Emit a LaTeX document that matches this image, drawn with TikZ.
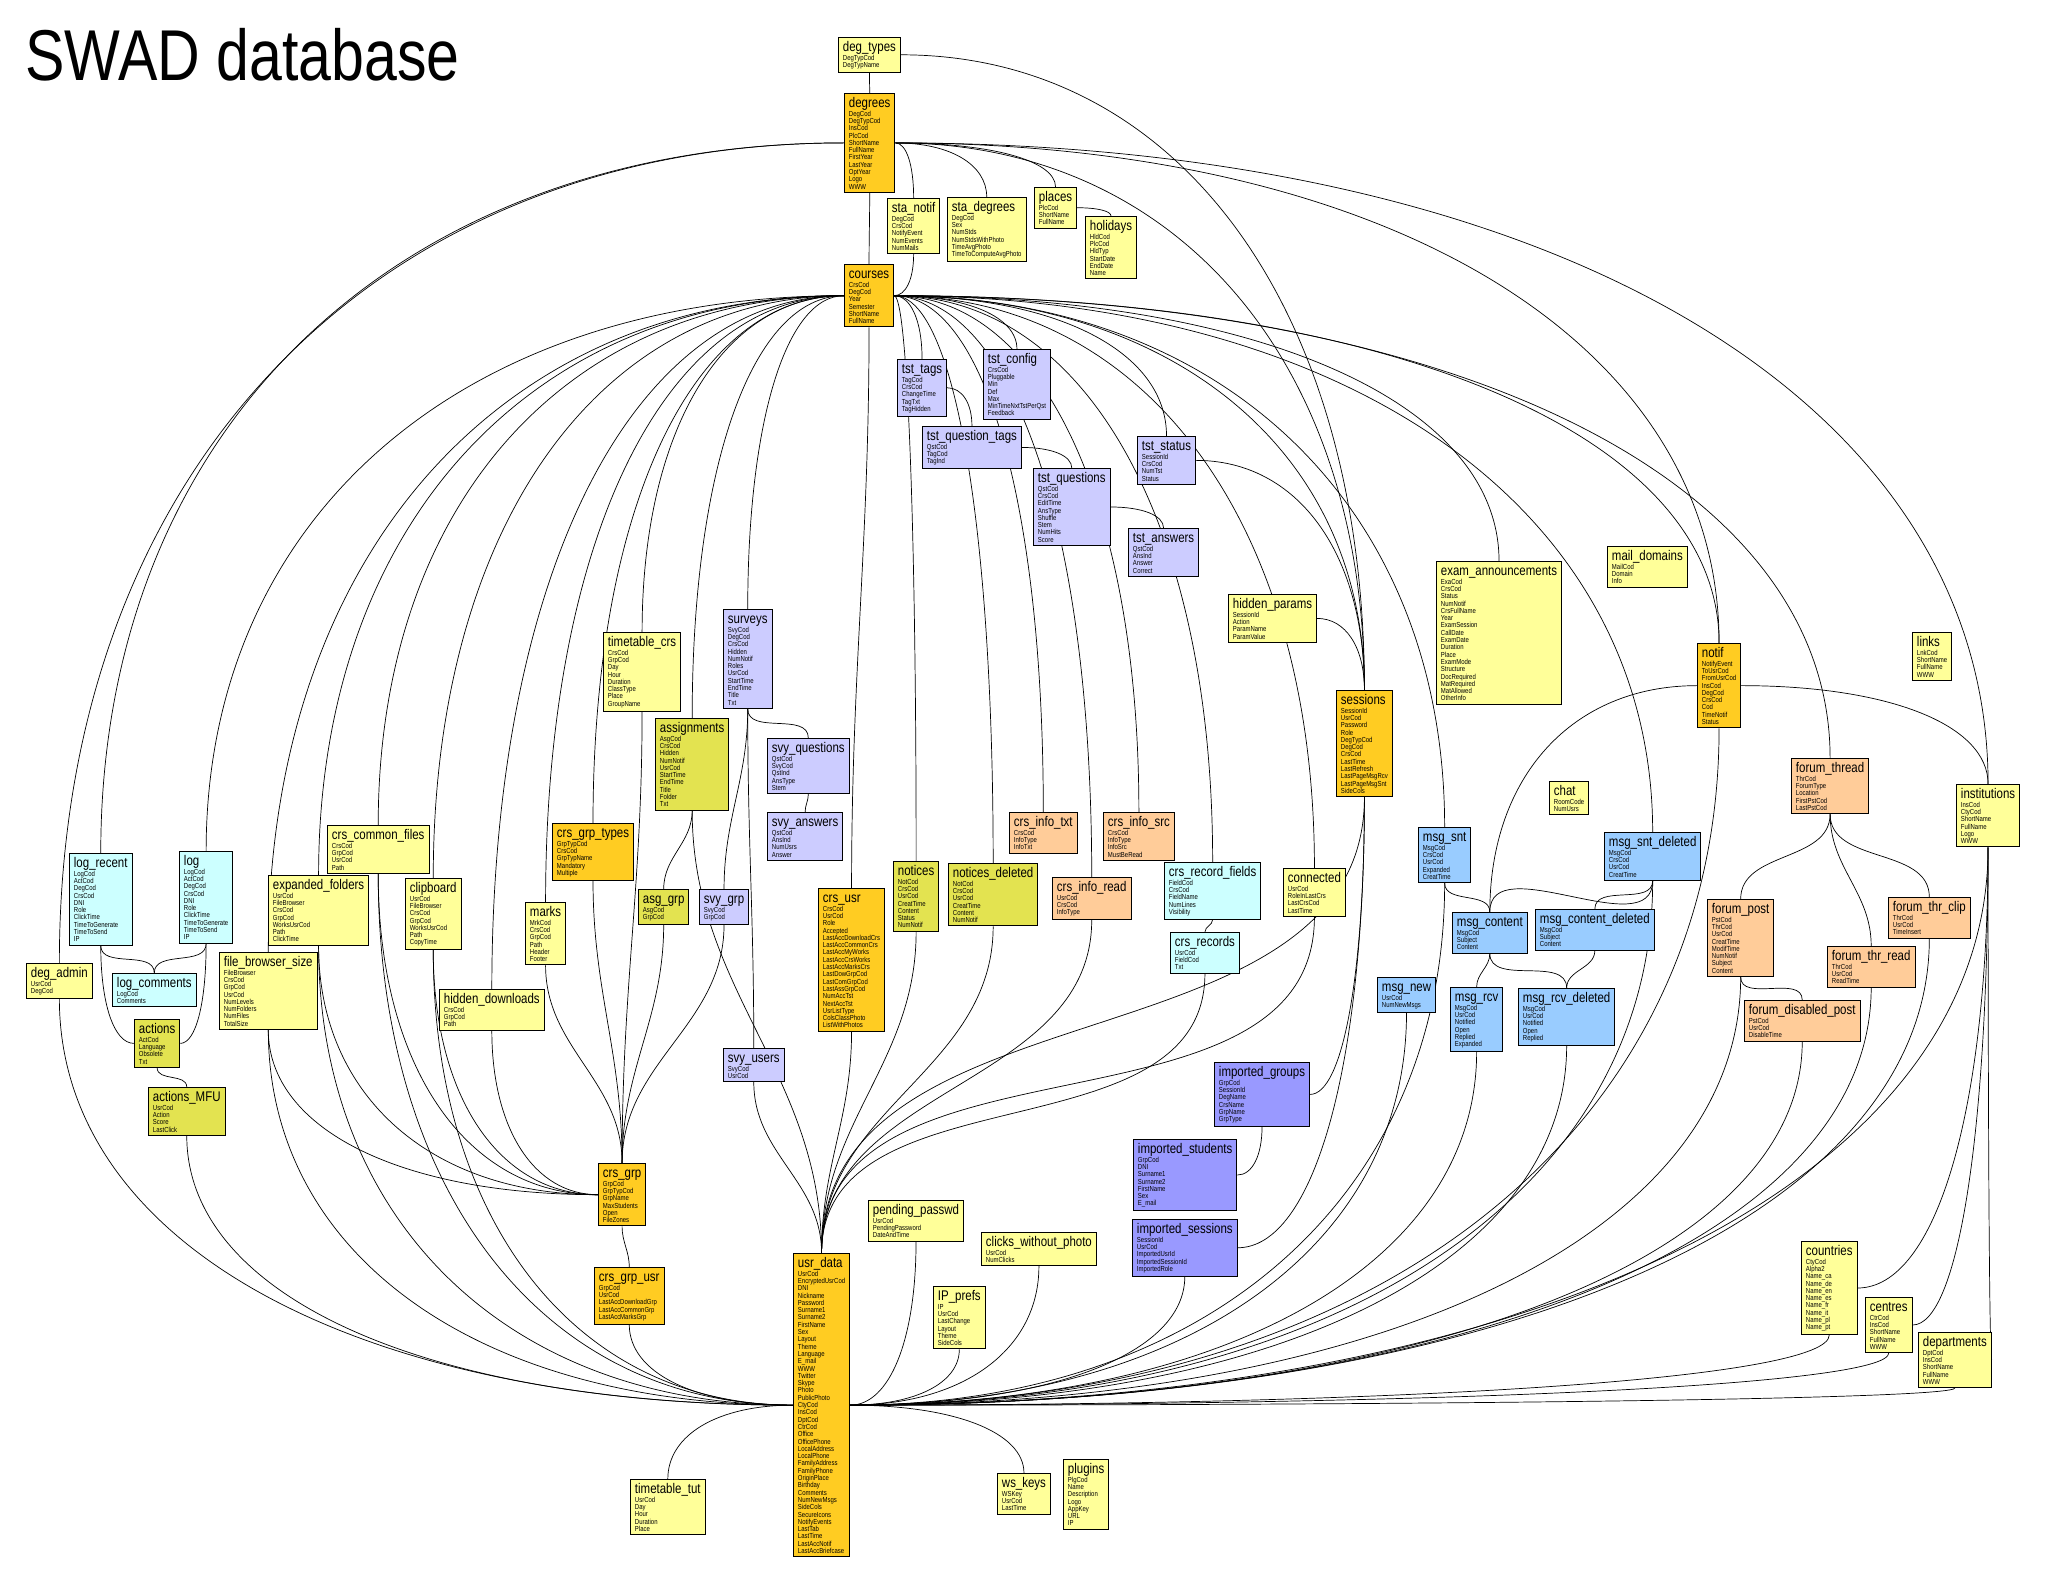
\documentclass[tikz,border=0pt]{standalone}
\usepackage{fontspec}
\newfontfamily\dbfont{Liberation Sans}[FakeStretch=0.82]
\usetikzlibrary{backgrounds,calc}
\definecolor{cYel}{HTML}{FFFF99}
\definecolor{cOrg}{HTML}{FFCC22}
\definecolor{cLav}{HTML}{CCCCFF}
\definecolor{cOlv}{HTML}{E3E350}
\definecolor{cPch}{HTML}{FFCC99}
\definecolor{cBlu}{HTML}{99CCFF}
\definecolor{cCyn}{HTML}{CCFFFF}
\definecolor{cVio}{HTML}{9999FF}
\lineskiplimit=-20pt
\lineskip=0pt
\newcommand\tname[1]{\rule{0pt}{10.5pt}{\fontsize{14}{14}\selectfont #1}\\[1.7pt]}

\begin{document}
\begin{tikzpicture}[x=1pt,y=-1pt,
    tbl/.style={draw,line width=0.9pt,anchor=north west,align=left,inner xsep=4.5pt,inner ysep=3.2pt,font=\dbfont\fontsize{7.3}{7.3}\selectfont},
    yel/.style={tbl,fill=cYel}, org/.style={tbl,fill=cOrg}, lav/.style={tbl,fill=cLav},
    olv/.style={tbl,fill=cOlv}, pch/.style={tbl,fill=cPch}, blu/.style={tbl,fill=cBlu},
    cyn/.style={tbl,fill=cCyn}, vio/.style={tbl,fill=cVio},
    hvcurve/.style={to path={.. controls ($(\tikztostart)!0.6!(\tikztotarget|-\tikztostart)$) and ($(\tikztotarget)!0.6!(\tikztotarget|-\tikztostart)$) .. (\tikztotarget)}},
    vhcurve/.style={to path={.. controls ($(\tikztostart)!0.6!(\tikztostart|-\tikztotarget)$) and ($(\tikztotarget)!0.6!(\tikztostart|-\tikztotarget)$) .. (\tikztotarget)}}]
    \useasboundingbox (0,0) rectangle (2048,1589);
    \node[anchor=base west,font=\dbfont\fontsize{72}{72}\selectfont] (title) at (22,81) {SWAD database};

    % degrees and courses
    \node[yel] (degtypes) at (838,37) {\tname{deg\_types}DegTypCod\\DegTypName};
    \node[org] (degrees) at (844,93) {\tname{degrees}DegCod\\DegTypCod\\InsCod\\PlcCod\\ShortName\\FullName\\FirstYear\\LastYear\\OptYear\\Logo\\WWW};
    \node[yel] (stanotif) at (887,198) {\tname{sta\_notif}DegCod\\CrsCod\\NotifyEvent\\NumEvents\\NumMails};
    \node[yel] (stadegrees) at (947,197) {\tname{sta\_degrees}DegCod\\Sex\\NumStds\\NumStdsWithPhoto\\TimeAvgPhoto\\TimeToComputeAvgPhoto};
    \node[yel] (places) at (1034,187) {\tname{places}PlcCod\\ShortName\\FullName};
    \node[yel] (holidays) at (1085,216) {\tname{holidays}HldCod\\PlcCod\\HldTyp\\StartDate\\EndDate\\Name};
    \node[org] (courses) at (844,264) {\tname{courses}CrsCod\\DegCod\\Year\\Semester\\ShortName\\FullName};

    % tests
    \node[lav] (tsttags) at (897,359) {\tname{tst\_tags}TagCod\\CrsCod\\ChangeTime\\TagTxt\\TagHidden};
    \node[lav] (tstconfig) at (983,349) {\tname{tst\_config}CrsCod\\Pluggable\\Min\\Def\\Max\\MinTimeNxtTstPerQst\\Feedback};
    \node[lav] (tstqtags) at (922,426) {\tname{tst\_question\_tags}QstCod\\TagCod\\TagInd};
    \node[lav] (tstquestions) at (1033,468) {\tname{tst\_questions}QstCod\\CrsCod\\EditTime\\AnsType\\Shuffle\\Stem\\NumHits\\Score};
    \node[lav] (tstanswers) at (1128,528) {\tname{tst\_answers}QstCod\\AnsInd\\Answer\\Correct};
    \node[lav] (tststatus) at (1137,436) {\tname{tst\_status}SessionId\\CrsCod\\NumTst\\Status};

    % sessions, notifications, forums
    \node[yel] (hiddenparams) at (1228,594) {\tname{hidden\_params}SessionId\\Action\\ParamName\\ParamValue};
    \node[org] (sessions) at (1336,690) {\tname{sessions}SessionId\\UsrCod\\Password\\Role\\DegTypCod\\DegCod\\CrsCod\\LastTime\\LastRefresh\\LastPageMsgRcv\\LastPageMsgSnt\\SideCols};
    \node[yel] (exams) at (1436,561) {\tname{exam\_announcements}ExaCod\\CrsCod\\Status\\NumNotif\\CrsFullName\\Year\\ExamSession\\CallDate\\ExamDate\\Duration\\Place\\ExamMode\\Structure\\DocRequired\\MatRequired\\MatAllowed\\OtherInfo};
    \node[yel] (chat) at (1549,781) {\tname{chat}RoomCode\\NumUsrs};
    \node[yel] (maildomains) at (1607,546) {\tname{mail\_domains}MailCod\\Domain\\Info};
    \node[yel] (links) at (1912,632) {\tname{links}LnkCod\\ShortName\\FullName\\WWW};
    \node[org] (notif) at (1697,643) {\tname{notif}NotifyEvent\\ToUsrCod\\FromUsrCod\\InsCod\\DegCod\\CrsCod\\Cod\\TimeNotif\\Status};
    \node[pch] (forumthread) at (1791,758) {\tname{forum\_thread}ThrCod\\ForumType\\Location\\FirstPstCod\\LastPstCod};
    \node[yel] (institutions) at (1956,784) {\tname{institutions}InsCod\\CtyCod\\ShortName\\FullName\\Logo\\WWW};
    \node[pch] (forumpost) at (1707,899) {\tname{forum\_post}PstCod\\ThrCod\\UsrCod\\CreatTime\\ModifTime\\NumNotif\\Subject\\Content};
    \node[pch] (disabledpost) at (1744,1000) {\tname{forum\_disabled\_post}PstCod\\UsrCod\\DisableTime};
    \node[pch] (thrread) at (1827,946) {\tname{forum\_thr\_read}ThrCod\\UsrCod\\ReadTime};
    \node[pch] (thrclip) at (1888,897) {\tname{forum\_thr\_clip}ThrCod\\UsrCod\\TimeInsert};

    % messages
    \node[blu] (msgsnt) at (1418,827) {\tname{msg\_snt}MsgCod\\CrsCod\\UsrCod\\Expanded\\CreatTime};
    \node[blu] (msgsntdel) at (1604,832) {\tname{msg\_snt\_deleted}MsgCod\\CrsCod\\UsrCod\\CreatTime};
    \node[blu] (msgcontent) at (1452,912) {\tname{msg\_content}MsgCod\\Subject\\Content};
    \node[blu] (msgcontentdel) at (1535,909) {\tname{msg\_content\_deleted}MsgCod\\Subject\\Content};
    \node[blu] (msgnew) at (1377,977) {\tname{msg\_new}UsrCod\\NumNewMsgs};
    \node[blu] (msgrcv) at (1450,987) {\tname{msg\_rcv}MsgCod\\UsrCod\\Notified\\Open\\Replied\\Expanded};
    \node[blu] (msgrcvdel) at (1518,988) {\tname{msg\_rcv\_deleted}MsgCod\\UsrCod\\Notified\\Open\\Replied};

    % logs and files
    \node[cyn] (logrecent) at (69,853) {\tname{log\_recent}LogCod\\ActCod\\DegCod\\CrsCod\\DNI\\Role\\ClickTime\\TimeToGenerate\\TimeToSend\\IP};
    \node[cyn] (log) at (179,851) {\tname{log}LogCod\\ActCod\\DegCod\\CrsCod\\DNI\\Role\\ClickTime\\TimeToGenerate\\TimeToSend\\IP};
    \node[yel] (degadmin) at (26,963) {\tname{deg\_admin}UsrCod\\DegCod};
    \node[cyn] (logcomments) at (112,973) {\tname{log\_comments}LogCod\\Comments};
    \node[olv] (actions) at (134,1019) {\tname{actions}ActCod\\Language\\Obsolete\\Txt};
    \node[olv] (actionsmfu) at (148,1087) {\tname{actions\_MFU}UsrCod\\Action\\Score\\LastClick};
    \node[yel] (expfolders) at (268,875) {\tname{expanded\_folders}UsrCod\\FileBrowser\\CrsCod\\GrpCod\\WorksUsrCod\\Path\\ClickTime};
    \node[yel] (fbsize) at (219,952) {\tname{file\_browser\_size}FileBrowser\\CrsCod\\GrpCod\\UsrCod\\NumLevels\\NumFolders\\NumFiles\\TotalSize};
    \node[yel] (crscommon) at (327,825) {\tname{crs\_common\_files}CrsCod\\GrpCod\\UsrCod\\Path};
    \node[yel] (clipboard) at (405,878) {\tname{clipboard}UsrCod\\FileBrowser\\CrsCod\\GrpCod\\WorksUsrCod\\Path\\CopyTime};
    \node[yel] (marks) at (525,902) {\tname{marks}MrkCod\\CrsCod\\GrpCod\\Path\\Header\\Footer};
    \node[yel] (hiddendl) at (439,989) {\tname{hidden\_downloads}CrsCod\\GrpCod\\Path};

    % course groups, surveys, assignments
    \node[yel] (ttcrs) at (603,632) {\tname{timetable\_crs}CrsCod\\GrpCod\\Day\\Hour\\Duration\\ClassType\\Place\\GroupName};
    \node[lav] (surveys) at (723,609) {\tname{surveys}SvyCod\\DegCod\\CrsCod\\Hidden\\NumNotif\\Roles\\UsrCod\\StartTime\\EndTime\\Title\\Txt};
    \node[olv] (assignments) at (655,718) {\tname{assignments}AsgCod\\CrsCod\\Hidden\\NumNotif\\UsrCod\\StartTime\\EndTime\\Title\\Folder\\Txt};
    \node[lav] (svyquestions) at (767,738) {\tname{svy\_questions}QstCod\\SvyCod\\QstInd\\AnsType\\Stem};
    \node[lav] (svyanswers) at (767,812) {\tname{svy\_answers}QstCod\\AnsInd\\NumUsrs\\Answer};
    \node[org] (grptypes) at (552,823) {\tname{crs\_grp\_types}GrpTypCod\\CrsCod\\GrpTypName\\Mandatory\\Multiple};
    \node[olv] (asggrp) at (638,889) {\tname{asg\_grp}AsgCod\\GrpCod};
    \node[lav] (svygrp) at (699,889) {\tname{svy\_grp}SvyCod\\GrpCod};
    \node[lav] (svyusers) at (723,1048) {\tname{svy\_users}SvyCod\\UsrCod};
    \node[org] (crsgrp) at (598,1163) {\tname{crs\_grp}GrpCod\\GrpTypCod\\GrpName\\MaxStudents\\Open\\FileZones};
    \node[org] (crsgrpusr) at (594,1267) {\tname{crs\_grp\_usr}GrpCod\\UsrCod\\LastAccDownloadGrp\\LastAccCommonGrp\\LastAccMarksGrp};
    \node[org] (crsusr) at (818,888) {\tname{crs\_usr}CrsCod\\UsrCod\\Role\\Accepted\\LastAccDownloadCrs\\LastAccCommonCrs\\LastAccMyWorks\\LastAccCrsWorks\\LastAccMarksCrs\\LastDowGrpCod\\LastComGrpCod\\LastAssGrpCod\\NumAccTst\\NextAccTst\\UsrListType\\ColsClassPhoto\\ListWithPhotos};

    % notices and course info
    \node[olv] (notices) at (893,861) {\tname{notices}NotCod\\CrsCod\\UsrCod\\CreatTime\\Content\\Status\\NumNotif};
    \node[olv] (noticesdel) at (948,863) {\tname{notices\_deleted}NotCod\\CrsCod\\UsrCod\\CreatTime\\Content\\NumNotif};
    \node[pch] (infotxt) at (1009,812) {\tname{crs\_info\_txt}CrsCod\\InfoType\\InfoTxt};
    \node[pch] (infosrc) at (1103,812) {\tname{crs\_info\_src}CrsCod\\InfoType\\InfoSrc\\MustBeRead};
    \node[pch] (inforead) at (1052,877) {\tname{crs\_info\_read}UsrCod\\CrsCod\\InfoType};
    \node[cyn] (recfields) at (1164,862) {\tname{crs\_record\_fields}FieldCod\\CrsCod\\FieldName\\NumLines\\Visibility};
    \node[cyn] (records) at (1170,932) {\tname{crs\_records}UsrCod\\FieldCod\\Txt};
    \node[yel] (connected) at (1283,868) {\tname{connected}UsrCod\\RoleInLastCrs\\LastCrsCod\\LastTime};

    % users
    \node[org] (usrdata) at (793,1253) {\tname{usr\_data}UsrCod\\EncryptedUsrCod\\DNI\\Nickname\\Password\\Surname1\\Surname2\\FirstName\\Sex\\Layout\\Theme\\Language\\E\_mail\\WWW\\Twitter\\Skype\\Photo\\PublicPhoto\\CtyCod\\InsCod\\DptCod\\CtrCod\\Office\\OfficePhone\\LocalAddress\\LocalPhone\\FamilyAddress\\FamilyPhone\\OriginPlace\\Birthday\\Comments\\NumNewMsgs\\SideCols\\SecureIcons\\NotifyEvents\\LastTab\\LastTime\\LastAccNotif\\LastAccBriefcase};
    \node[yel] (pendpw) at (868,1200) {\tname{pending\_passwd}UsrCod\\PendingPassword\\DateAndTime};
    \node[yel] (clicks) at (981,1232) {\tname{clicks\_without\_photo}UsrCod\\NumClicks};
    \node[yel] (ipprefs) at (933,1286) {\tname{IP\_prefs}IP\\UsrCod\\LastChange\\Layout\\Theme\\SideCols};
    \node[vio] (impgroups) at (1214,1062) {\tname{imported\_groups}GrpCod\\SessionId\\DegName\\CrsName\\GrpName\\GrpType};
    \node[vio] (impstudents) at (1133,1139) {\tname{imported\_students}GrpCod\\DNI\\Surname1\\Surname2\\FirstName\\Sex\\E\_mail};
    \node[vio] (impsessions) at (1132,1219) {\tname{imported\_sessions}SessionId\\UsrCod\\ImportedUsrId\\ImportedSessionId\\ImportedRole};
    \node[yel] (timetabletut) at (630,1479) {\tname{timetable\_tut}UsrCod\\Day\\Hour\\Duration\\Place};
    \node[yel] (wskeys) at (997,1473) {\tname{ws\_keys}WSKey\\UsrCod\\LastTime};
    \node[yel] (plugins) at (1063,1459) {\tname{plugins}PlgCod\\Name\\Description\\Logo\\AppKey\\URL\\IP};
    \node[yel] (countries) at (1801,1241) {\tname{countries}CtyCod\\Alpha2\\Name\_ca\\Name\_de\\Name\_en\\Name\_es\\Name\_fr\\Name\_it\\Name\_pl\\Name\_pt};
    \node[yel] (centres) at (1865,1297) {\tname{centres}CtrCod\\InsCod\\ShortName\\FullName\\WWW};
    \node[yel] (departments) at (1918,1332) {\tname{departments}DptCod\\InsCod\\ShortName\\FullName\\WWW};

    \begin{pgfonlayer}{background}
    \fill[white] (0,0) rectangle (2048,1589);
    \begin{scope}[line width=0.7pt]
    % hubs to the tables below them
    \foreach \v in {degadmin,logrecent}
        \draw (degrees.west) to[hvcurve] (\v.north);
    \foreach \v in {stanotif,stadegrees,places,sessions,notif,institutions}
        \draw (degrees.east) to[hvcurve] (\v.north);
    \foreach \v in {crscommon,expfolders,fbsize,clipboard,hiddendl,marks,ttcrs,grptypes,assignments,surveys,log}
        \draw (courses.west) to[hvcurve] (\v.north);
    \foreach \v in {notices,noticesdel,tsttags,tstconfig,infotxt,inforead,infosrc,recfields,tststatus,connected,sessions,exams,msgsnt,msgsntdel,notif,forumthread}
        \draw (courses.east) to[hvcurve] (\v.north);
    \foreach \u / \v in {places/holidays,tsttags/tstqtags,tstqtags/tstquestions,tstquestions/tstanswers,tststatus/sessions,hiddenparams/sessions,degtypes/sessions,notif/institutions,usrdata/wskeys}
        \draw (\u.east) to[hvcurve] (\v.north);
    \foreach \u / \v in {notif/msgcontent,usrdata/timetabletut}
        \draw (\u.west) to[hvcurve] (\v.north);

    % tables down to the hubs
    \foreach \u in {degadmin,actionsmfu,crscommon,expfolders,fbsize,clipboard,crsgrpusr}
        \draw (\u.south) to[vhcurve] (usrdata.west);
    \foreach \u in {crscommon,expfolders,fbsize,clipboard,hiddendl}
        \draw (\u.south) to[vhcurve] (crsgrp.west);
    \foreach \u in {pendpw,clicks,ipprefs,impsessions,msgnew,msgrcv,msgrcvdel,msgsnt,msgsntdel,forumpost,disabledpost,thrread,thrclip,notif,institutions,countries,centres,departments}
        \draw (\u.south) to[vhcurve] (usrdata.east);
    \foreach \u / \v in {stanotif/courses.east,sessions/impgroups.east,sessions/impsessions.east,impgroups/impstudents.east,institutions/countries.east,institutions/centres.east,institutions/departments.east,logrecent/actions.west,log/actions.east}
        \draw (\u.south) to[vhcurve] (\v);

    % bottom to top
    \foreach \u / \v in {degtypes/degrees,degrees/courses,courses/crsusr,surveys/svyquestions,surveys/svygrp,surveys/svyusers,svyquestions/svyanswers,assignments/asggrp,ttcrs/crsgrp,grptypes/crsgrp,marks/crsgrp,asggrp/crsgrp,svygrp/crsgrp,crsgrp/crsgrpusr,assignments/usrdata,svyusers/usrdata,crsusr/usrdata,notices/usrdata,noticesdel/usrdata,inforead/usrdata,records/usrdata,connected/usrdata,sessions/usrdata,recfields/records,msgsnt/msgcontent,msgsntdel/msgcontent,msgsntdel/msgcontentdel,msgcontent/msgrcv,msgcontent/msgrcvdel,msgcontentdel/msgrcvdel,forumthread/forumpost,forumthread/thrread,forumthread/thrclip,forumpost/disabledpost,logrecent/logcomments,log/logcomments,actions/actionsmfu}
        \draw (\u.south) to[out=-90,in=90] (\v.north);
    \end{scope}
    \end{pgfonlayer}
\end{tikzpicture}
\end{document}
